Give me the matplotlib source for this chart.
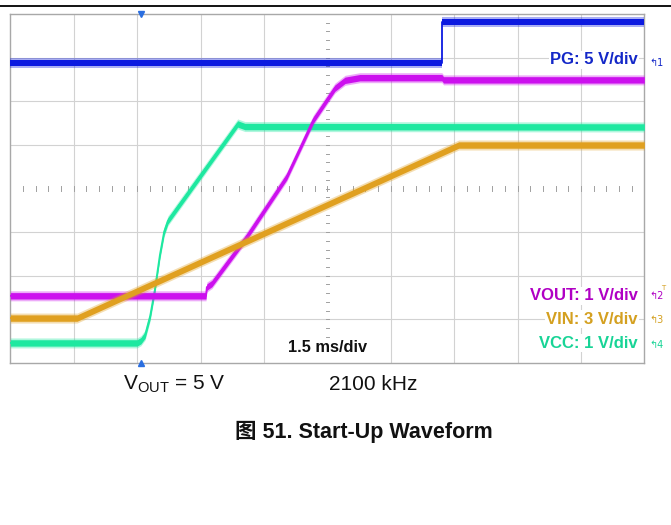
import matplotlib
matplotlib.use("Agg")
import matplotlib.pyplot as plt
from matplotlib.lines import Line2D

# Scope settings
ms_per_div = 1.5
n_xdiv, n_ydiv = 10, 8

# Channel traces: time in ms from left edge of screen, values in volts
pg_t = [0.0, 10.21, 10.21, 15.0]
pg_v = [0.0, 0.0, 4.70, 4.70]

vout_t = [0.0, 4.63, 4.65, 4.77, 5.59, 6.54, 7.17, 7.49, 7.68, 7.92, 8.27, 10.21, 10.25, 15.0]
vout_v = [0.0, 0.0, 0.20, 0.28, 1.35, 2.73, 4.03, 4.49, 4.76, 4.94, 5.00, 5.00, 4.95, 4.95]

vin_t = [0.0, 1.58, 10.61, 15.0]
vin_v = [0.0, 0.0, 11.9, 11.9]

vcc_t = [0.0, 3.00, 3.09, 3.19, 3.31, 3.42, 3.54, 3.64, 3.73, 5.38, 5.55, 15.0]
vcc_v = [0.0, 0.0, 0.05, 0.18, 0.62, 1.22, 2.02, 2.55, 2.80, 5.02, 4.96, 4.95]

# name, time, volts, V/div, ground position (div), trace colour, label colour, label text
channels = [
    ("1", pg_t, pg_v, 5.0, 6.87, "#0c1ae0", "#1428c8", "PG: 5 V/div"),
    ("2", vout_t, vout_v, 1.0, 1.54, "#cc10ee", "#b000c4", "VOUT: 1 V/div"),
    ("3", vin_t, vin_v, 3.0, 1.03, "#e0a020", "#d4a020", "VIN: 3 V/div"),
    ("4", vcc_t, vcc_v, 1.0, 0.46, "#1ee8a0", "#18d496", "VCC: 1 V/div"),
]
draw_order = ["1", "4", "2", "3"]

W, H = 671, 525
fig = plt.figure(figsize=(W / 100, H / 100), dpi=100)
fig.patch.set_facecolor("white")

# screen box in pixel units
x0, x1, y0, y1 = 10.3, 644.3, 14.0, 363.0
ax = fig.add_axes([x0 / W, 1 - y1 / H, (x1 - x0) / W, (y1 - y0) / H])
ax.set_xlim(0, n_xdiv * ms_per_div)
ax.set_ylim(0, n_ydiv)
ax.set_xticks([])
ax.set_yticks([])
for s in ax.spines.values():
    s.set_color("#a8a8a8")
    s.set_linewidth(1.0)

# graticule
grid_c = "#d2d2d2"
for i in range(1, n_xdiv):
    if i != n_xdiv // 2:
        ax.axvline(i * ms_per_div, color=grid_c, lw=0.8, zorder=0)
for j in range(1, n_ydiv):
    if j != n_ydiv // 2:
        ax.axhline(j, color=grid_c, lw=0.8, zorder=0)
tick_c = "#a0a0a0"
xc = n_xdiv // 2 * ms_per_div
for k in range(1, n_xdiv * 5):
    ax.plot([k * ms_per_div / 5] * 2, [n_ydiv / 2 - 0.05, n_ydiv / 2 + 0.05],
            color=tick_c, lw=0.7, zorder=0)
for k in range(1, n_ydiv * 5):
    ax.plot([xc - 0.04, xc + 0.04], [k / 5] * 2, color=tick_c, lw=0.7, zorder=0)

# trigger position markers
trig_t = 3.09
ax.plot([trig_t], [n_ydiv], marker="v", ms=5, color="#2a6ee0", clip_on=False, zorder=5)
ax.plot([trig_t], [0], marker="^", ms=4, color="#2a6ee0", clip_on=False, zorder=5)

px_per_div = (y1 - y0) / n_ydiv
by_name = {c[0]: c for c in channels}
for name in draw_order:
    _, t, v, vpd, gnd, col, _, _ = by_name[name]
    cax = ax.twinx()
    cax.set_ylim(-gnd * vpd, (n_ydiv - gnd) * vpd)
    cax.set_axis_off()
    cax.patch.set_visible(False)
    outer = 5.0 / px_per_div * vpd
    inner = 3.2 / px_per_div * vpd
    lo_o = [a - outer for a in v]
    hi_o = [a + outer for a in v]
    lo_i = [a - inner for a in v]
    hi_i = [a + inner for a in v]
    cax.fill_between(t, lo_o, hi_o, color=col, alpha=0.35, lw=0)
    cax.fill_between(t, lo_i, hi_i, color=col, alpha=1.0, lw=0)
    cax.plot(t, v, color=col, lw=1.3, solid_joinstyle="round")
    cax.set_xlim(0, n_xdiv * ms_per_div)


def fx(px):
    return px / W


def fy(py):
    return 1 - py / H


label_font = ["Liberation Sans", "DejaVu Sans"]
label_y = {"1": 60, "2": 296, "3": 319, "4": 343}
marker_y = {"1": 63, "2": 296, "3": 320, "4": 345}
for name, t, v, vpd, gnd, col, lcol, text in channels:
    fig.text(fx(638), fy(label_y[name]), text, ha="right", va="center",
             fontsize=12, fontweight="bold", color=lcol, family=label_font,
             bbox=dict(facecolor="white", edgecolor="none", pad=1.0))
    fig.text(fx(649), fy(marker_y[name]), "\u21b0" + name, ha="left", va="center",
             fontsize=7, color=lcol, family=["DejaVu Sans"])
fig.text(fx(661), fy(288), "T", ha="left", va="center", fontsize=5,
         color="#d4a020", family=["DejaVu Sans"])

fig.text(fx(328), fy(348), "1.5 ms/div", ha="center", va="center", fontsize=11.8,
         fontweight="bold", color="#111111", family=label_font,
         bbox=dict(facecolor="white", edgecolor="none", pad=1.0))

# conditions and caption
fig.text(fx(123), fy(384), r"V$_{\mathregular{OUT}}$ = 5 V", ha="left", va="center",
         fontsize=15, color="#111111", family=label_font)
fig.text(fx(329), fy(384), "2100 kHz", ha="left", va="center",
         fontsize=15, color="#111111", family=label_font)
fig.text(fx(364), fy(432), "图 51. Start-Up Waveform", ha="center", va="center",
         fontsize=15.5, fontweight="bold", color="#111111",
         family=["Liberation Sans", "Noto Sans CJK SC"])

# rule across the top of the page
fig.add_artist(Line2D([0, 1], [fy(6), fy(6)], color="black", lw=1.3,
                      transform=fig.transFigure))

fig.savefig("out.png", dpi=100, facecolor="white")
